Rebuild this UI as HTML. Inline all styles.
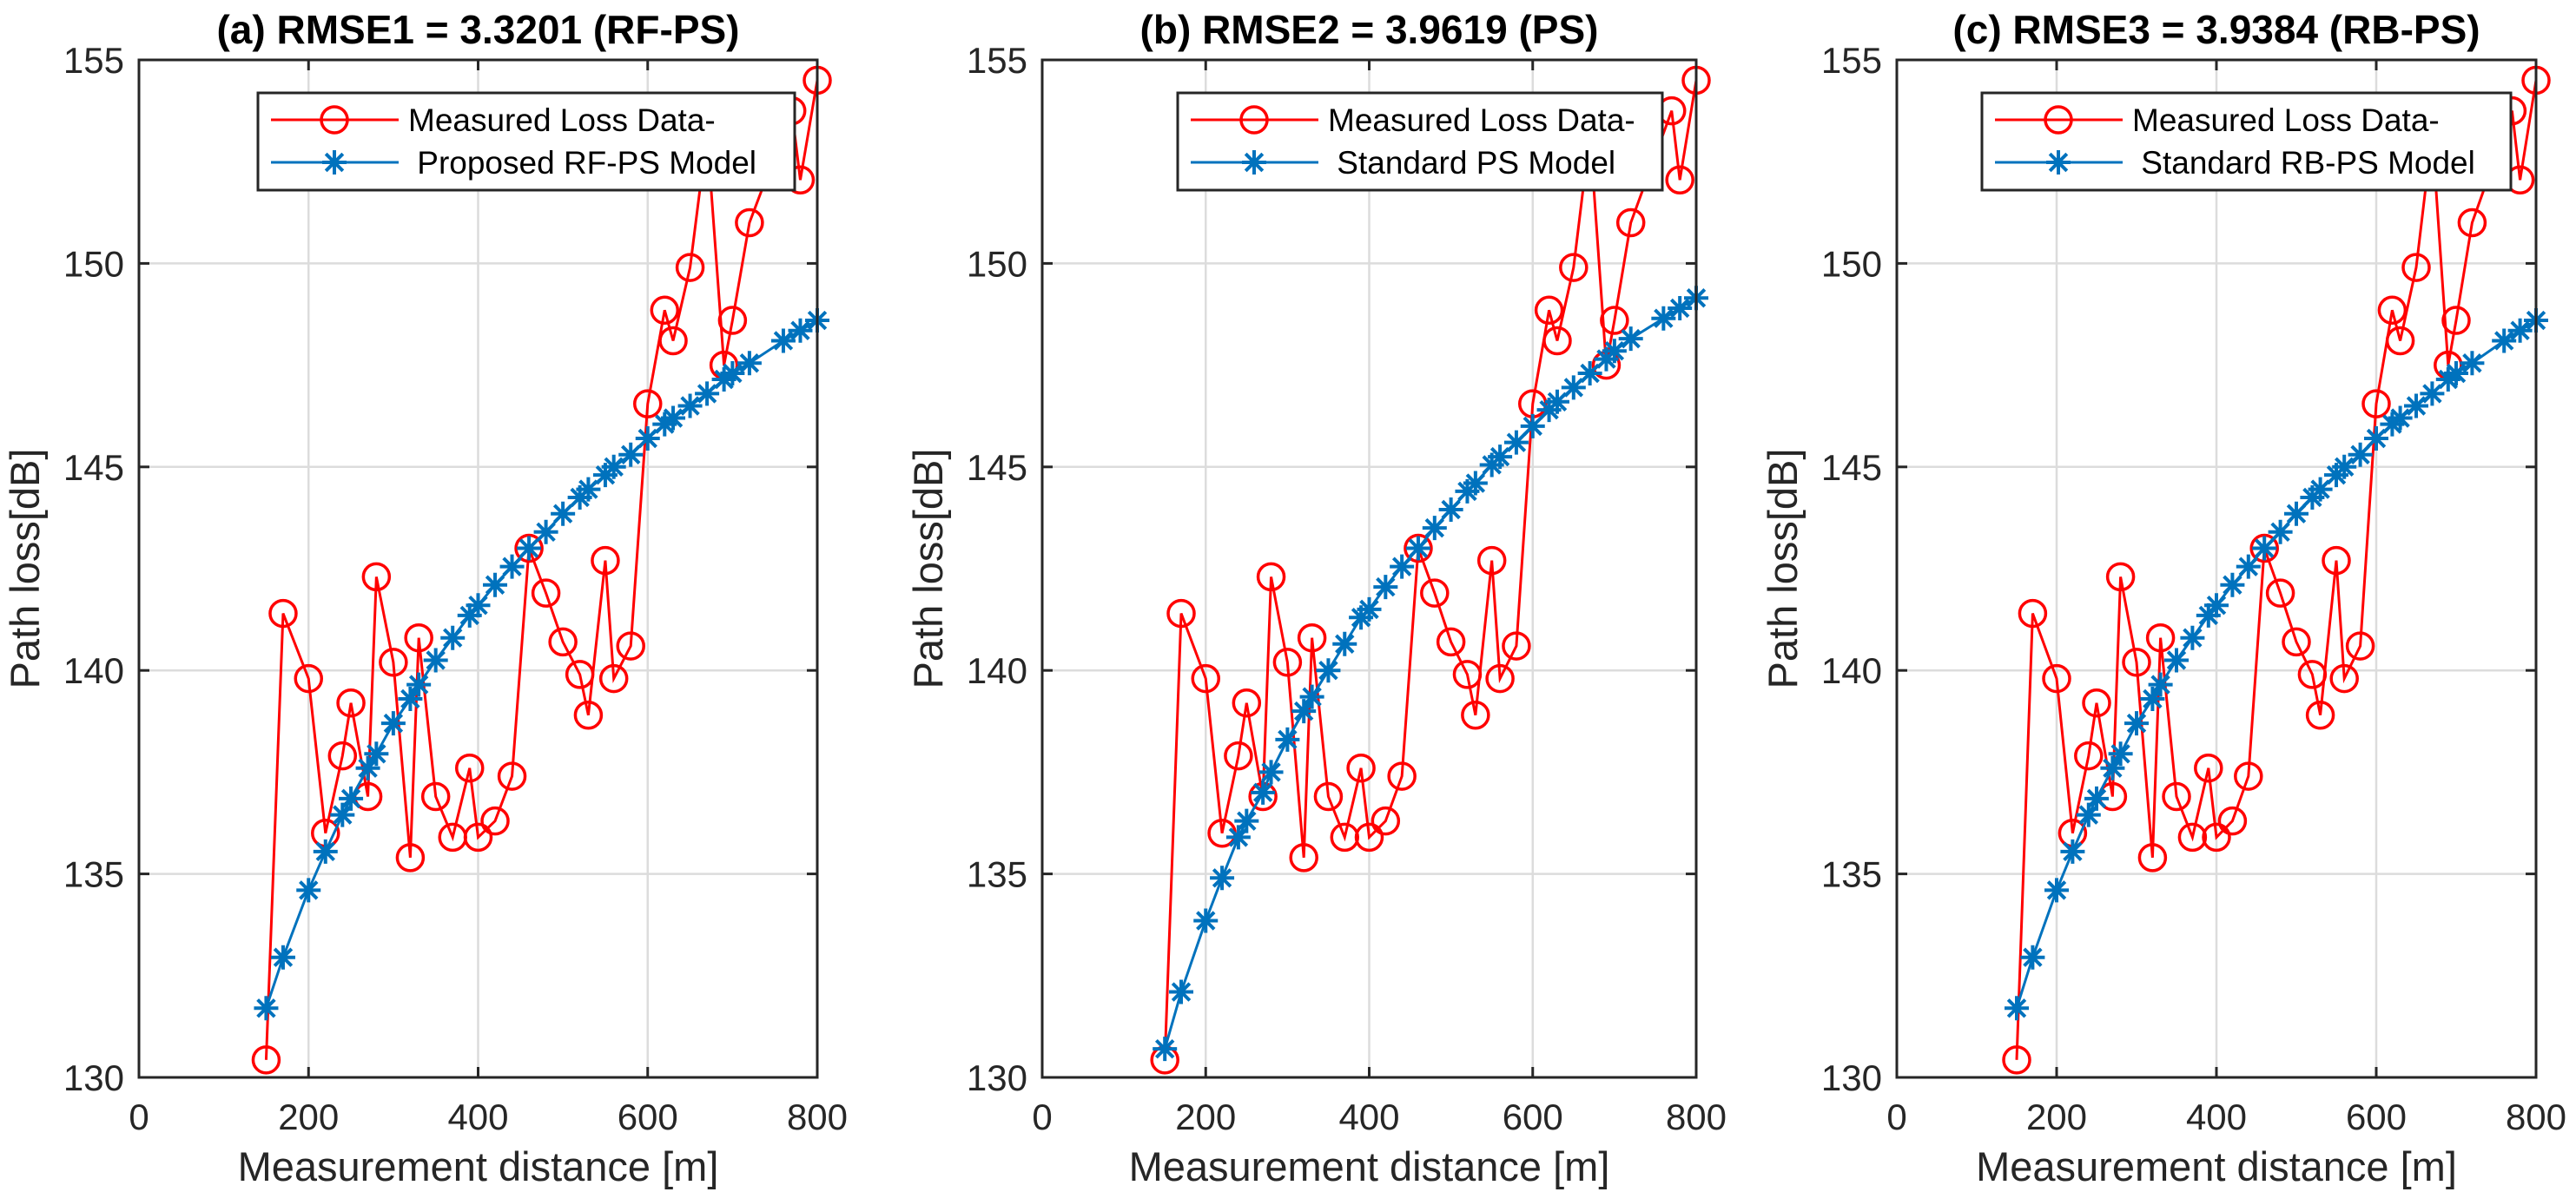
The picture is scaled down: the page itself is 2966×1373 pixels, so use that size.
<!DOCTYPE html>
<html><head><meta charset="utf-8"><style>
html,body{margin:0;padding:0;background:#fff;}
svg{display:block;font-family:"Liberation Sans",Arial,sans-serif;}
</style></head><body>
<svg id="fig" width="2966" height="1373" viewBox="0 0 2966 1373"></svg>
<script>
const xMeas = [150,170,200,220,240,250,270,280,300,320,330,350,370,390,400,420,440,460,480,500,520,530,550,560,580,600,620,630,650,670,690,700,720,770,780,800];
const yMeas = [130.43,141.4,139.8,136.0,137.9,139.2,136.9,142.3,140.2,135.4,140.8,136.9,135.9,137.6,135.9,136.3,137.4,143.0,141.9,140.7,139.9,138.9,142.7,139.8,140.6,146.55,148.85,148.1,149.9,153.2,147.5,148.6,151.0,153.75,152.05,154.5];
const xModel = [150,170,200,220,240,250,270,280,300,320,330,350,370,390,400,420,440,460,480,500,520,530,550,560,580,600,620,630,650,670,690,700,720,760,780,800];
const yRFPS = [131.7,132.95,134.6,135.55,136.45,136.85,137.6,137.95,138.7,139.3,139.65,140.25,140.8,141.35,141.6,142.1,142.55,143.0,143.4,143.85,144.25,144.45,144.8,145.0,145.3,145.7,146.05,146.2,146.5,146.8,147.15,147.3,147.55,148.1,148.35,148.6];
const yPS = [130.7,132.1,133.85,134.9,135.9,136.3,137.0,137.5,138.3,139.0,139.35,140.0,140.65,141.3,141.5,142.05,142.55,143.0,143.5,143.95,144.4,144.6,145.05,145.25,145.6,146.0,146.4,146.6,146.95,147.3,147.65,147.85,148.15,148.65,148.9,149.15];
const yRBPS = [131.7,132.95,134.6,135.55,136.45,136.85,137.6,137.95,138.7,139.3,139.65,140.25,140.8,141.35,141.6,142.1,142.55,143.0,143.4,143.85,144.25,144.45,144.8,145.0,145.3,145.7,146.05,146.2,146.5,146.8,147.15,147.3,147.55,148.1,148.35,148.6];
const xTicks = [0,200,400,600,800];
const yTicks = [130,135,140,145,150,155];
const titles = ["(a) RMSE1 = 3.3201 (RF-PS)","(b) RMSE2 = 3.9619 (PS)","(c) RMSE3 = 3.9384 (RB-PS)"];
const modelNames = ["Proposed RF-PS Model","Standard PS Model","Standard RB-PS Model"];
const NS="http://www.w3.org/2000/svg";
const svg=document.getElementById('fig');
function el(tag,attrs,parent){const e=document.createElementNS(NS,tag);for(const k in attrs)e.setAttribute(k,attrs[k]);(parent||svg).appendChild(e);return e;}
const panels=[{l:160,r:941,legL:297,legR:915},{l:1200,r:1953,legL:1356,legR:1914},{l:2184,r:2920,legL:2282,legR:2891}];
const T=69,B=1241;
const models=[yRFPS,yPS,yRBPS];
function star(g,cx,cy){const s=14;
 let p=el('path',{d:`M${cx-s},${cy}H${cx+s}M${cx},${cy-s}V${cy+s}M${cx-s*0.7},${cy-s*0.7}L${cx+s*0.7},${cy+s*0.7}M${cx-s*0.7},${cy+s*0.7}L${cx+s*0.7},${cy-s*0.7}`,stroke:'#0072BD','stroke-width':4,fill:'none'},g);
 }
panels.forEach((P,i)=>{
 const g=el('g',{});
 
 const sx=v=>P.l+(v-0)/800*(P.r-P.l);
 const sy=v=>B-(v-130)/25*(B-T);
 xTicks.forEach(t=>{if(t>0&&t<800){const l=el('line',{x1:sx(t),x2:sx(t),y1:T,y2:B,stroke:'#dcdcdc','stroke-width':2.5},g);}});
 yTicks.forEach(t=>{if(t>130&&t<155){const l=el('line',{x1:P.l,x2:P.r,y1:sy(t),y2:sy(t),stroke:'#dcdcdc','stroke-width':2.5},g);}});
 const mp=xMeas.map((x,k)=>sx(x)+','+sy(yMeas[k])).join(' ');
 const ml=el('polyline',{points:mp,fill:'none',stroke:'#ff0000','stroke-width':3},g);
 
 xMeas.forEach((x,k)=>{const c=el('circle',{cx:sx(x),cy:sy(yMeas[k]),r:15,fill:'none',stroke:'#ff0000','stroke-width':3.5},g);
  });
 const ys=models[i];
 const bl=el('polyline',{points:xModel.map((x,k)=>sx(x)+','+sy(ys[k])).join(' '),fill:'none',stroke:'#0072BD','stroke-width':3},g);
 
 xModel.forEach((x,k)=>star(g,sx(x),sy(ys[k])));
 xTicks.forEach(t=>{
  el('line',{x1:sx(t),x2:sx(t),y1:B,y2:B-12,stroke:'#262626','stroke-width':3},g);
  el('line',{x1:sx(t),x2:sx(t),y1:T,y2:T+12,stroke:'#262626','stroke-width':3},g);
  const tx=el('text',{x:sx(t),y:1301,'font-size':42,'text-anchor':'middle',fill:'#262626'},g);tx.textContent=t;
  });
 yTicks.forEach(t=>{
  el('line',{x1:P.l,x2:P.l+12,y1:sy(t),y2:sy(t),stroke:'#262626','stroke-width':3},g);
  el('line',{x1:P.r,x2:P.r-12,y1:sy(t),y2:sy(t),stroke:'#262626','stroke-width':3},g);
  const tx=el('text',{x:P.l-17,y:sy(t)+15,'font-size':42,'text-anchor':'end',fill:'#262626'},g);tx.textContent=t;
  });
 const box=el('rect',{x:P.l,y:T,width:P.r-P.l,height:B-T,fill:'none',stroke:'#262626','stroke-width':3},g);
 
 const ti=el('text',{x:(P.l+P.r)/2,y:50,'font-size':46,'font-weight':'bold','text-anchor':'middle',fill:'#000'},g);ti.textContent=titles[i];
 
 const xl=el('text',{x:(P.l+P.r)/2,y:1360,'font-size':47,'text-anchor':'middle',fill:'#262626'},g);xl.textContent='Measurement distance [m]';
 
 const yx=P.l-115,yy=(T+B)/2;
 const yl=el('text',{x:yx,y:yy,'font-size':47,'text-anchor':'middle',fill:'#262626',transform:`rotate(-90 ${yx} ${yy})`},g);yl.textContent='Path loss[dB]';
 
 const lg=el('g',{},g);
 el('rect',{x:P.legL,y:107,width:P.legR-P.legL,height:112,fill:'#fff',stroke:'#262626','stroke-width':3},lg);
 el('line',{x1:P.legL+15,x2:P.legL+162,y1:138,y2:138,stroke:'#ff0000','stroke-width':3},lg);
 el('circle',{cx:P.legL+88,cy:138,r:15,fill:'none',stroke:'#ff0000','stroke-width':3.5},lg);
 el('line',{x1:P.legL+15,x2:P.legL+162,y1:187,y2:187,stroke:'#0072BD','stroke-width':3},lg);
 star(lg,P.legL+88,187);
 const t1=el('text',{x:P.legL+173,y:151,'font-size':37,fill:'#000'},lg);t1.textContent='Measured Loss Data-';
 
 const t2=el('text',{x:P.legL+173,y:200,'font-size':37,fill:'#000'},lg);t2.textContent='\u00a0'+modelNames[i];
 
});
</script>
</body></html>
